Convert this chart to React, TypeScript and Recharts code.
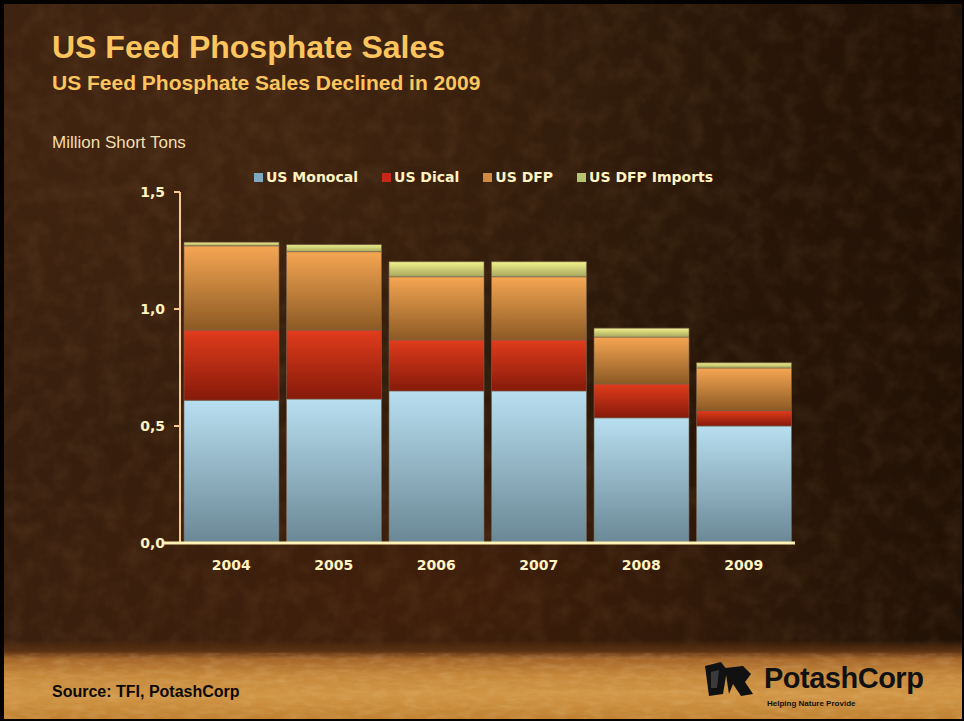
import React from 'react';
import { BarChart, Bar, XAxis, YAxis, Legend } from 'recharts';

const years = ['2004', '2005', '2006', '2007', '2008', '2009'];
const monocal = [0.61, 0.615, 0.65, 0.65, 0.535, 0.5];
const dical = [0.3, 0.295, 0.218, 0.218, 0.145, 0.066];
const dfp = [0.36, 0.335, 0.27, 0.27, 0.2, 0.182];
const dfpImports = [0.015, 0.03, 0.064, 0.064, 0.038, 0.022];

const seriesKeys = ['monocal', 'dical', 'dfp', 'imports'];
const seriesNames = ['US Monocal', 'US Dical', 'US DFP', 'US DFP Imports'];
const legendColors = ['#7fa9c2', '#c8281a', '#d08a42', '#b4c470'];
const gradTop = ['#b8dff0', '#e03c1c', '#f5a652', '#f2f28c'];
const gradBottom = ['#6a8795', '#861a0a', '#8c5a24', '#a6a65e'];

const yTicks = [0, 0.5, 1.0, 1.5];

const data = years.map((y, i) => ({
  year: y,
  monocal: monocal[i],
  dical: dical[i],
  dfp: dfp[i],
  imports: dfpImports[i],
}));

const chartFont = '"DejaVu Sans", Verdana, sans-serif';
const cream = '#fff3c2';

const fmt = (v: number) => v.toFixed(1).replace('.', ',');

const YTick = (props: any) => {
  const { x, y, payload } = props;
  const ax = x + 15;
  return (
    <g>
      {payload.value === 0 && (
        <line x1={ax - 17} x2={ax} y1={y} y2={y} stroke="#fff0b4" strokeWidth={3} />
      )}
      <text
        x={x}
        y={y}
        dy={5}
        textAnchor="end"
        fill={cream}
        fontSize={14}
        fontWeight="bold"
        fontFamily={chartFont}
      >
        {fmt(payload.value)}
      </text>
    </g>
  );
};

const LegendContent = () => (
  <div style={{ display: 'flex', alignItems: 'center', fontFamily: chartFont }}>
    {seriesNames.map((n, i) => (
      <div key={n} style={{ display: 'flex', alignItems: 'center', marginRight: 24 }}>
        <div style={{ width: 9, height: 9, background: legendColors[i], marginRight: 3 }} />
        <span style={{ color: cream, fontSize: 14, fontWeight: 'bold', whiteSpace: 'nowrap' }}>{n}</span>
      </div>
    ))}
  </div>
);

export default function App() {
  return (
    <div
      style={{
        position: 'absolute',
        left: 0,
        top: 0,
        width: 964,
        height: 721,
        background: '#050302',
        overflow: 'hidden',
      }}
    >
      <div
        style={{
          position: 'absolute',
          left: 4,
          top: 4,
          right: 2,
          bottom: 2,
          overflow: 'hidden',
          background:
            'radial-gradient(ellipse 60% 50% at 25% 15%, rgba(80,46,22,0.5) 0%, rgba(80,46,22,0) 100%), radial-gradient(ellipse 50% 30% at 45% 82%, rgba(90,40,14,0.4) 0%, rgba(90,40,14,0) 100%), linear-gradient(90deg, #381f0e 0%, #2d1909 50%, #221206 100%)',
        }}
      >
        <svg width={960} height={717} style={{ position: 'absolute', left: 0, top: 0, opacity: 0.18 }}>
          <filter id="grain">
            <feTurbulence type="fractalNoise" baseFrequency="0.05" numOctaves={3} seed={4} />
            <feColorMatrix
              type="matrix"
              values="0 0 0 0 0.45  0 0 0 0 0.25  0 0 0 0 0.1  0 0 0 1.2 -0.45"
            />
          </filter>
          <rect width={960} height={717} filter="url(#grain)" />
        </svg>
        <div
          style={{
            position: 'absolute',
            left: 0,
            right: 0,
            top: 636,
            bottom: 0,
            background:
              'linear-gradient(180deg, rgba(43,24,9,0) 0%, #5a3212 14%, #a5662a 24%, #c6893c 45%, #d09545 70%, #c08232 100%)',
          }}
        />
        <svg width={960} height={90} style={{ position: 'absolute', left: 0, top: 636, opacity: 0.25 }}>
          <filter id="grain2">
            <feTurbulence type="fractalNoise" baseFrequency="0.06 0.2" numOctaves={3} seed={9} />
            <feColorMatrix
              type="matrix"
              values="0 0 0 0 0.95  0 0 0 0 0.75  0 0 0 0 0.45  0 0 0 1.3 -0.5"
            />
          </filter>
          <rect y={20} width={960} height={70} filter="url(#grain2)" />
        </svg>
      </div>

      <div
        style={{
          position: 'absolute',
          left: 52,
          top: 28,
          fontFamily: 'Arial, "Liberation Sans", sans-serif',
          fontWeight: 'bold',
          fontSize: 32,
          color: '#fcc55e',
          whiteSpace: 'nowrap',
          lineHeight: '38px',
        }}
      >
        US Feed Phosphate Sales
      </div>
      <div
        style={{
          position: 'absolute',
          left: 52,
          top: 70,
          fontFamily: 'Arial, "Liberation Sans", sans-serif',
          fontWeight: 'bold',
          fontSize: 21,
          color: '#fcc55e',
          whiteSpace: 'nowrap',
          lineHeight: '26px',
        }}
      >
        US Feed Phosphate Sales Declined in 2009
      </div>
      <div
        style={{
          position: 'absolute',
          left: 52,
          top: 133,
          fontFamily: 'Arial, "Liberation Sans", sans-serif',
          fontSize: 17,
          color: '#f2dfae',
          whiteSpace: 'nowrap',
          lineHeight: '20px',
        }}
      >
        Million Short Tons
      </div>

      <div style={{ position: 'absolute', left: 0, top: 0 }}>
        <BarChart
          width={964}
          height={721}
          data={data}
          margin={{ top: 192, right: 169, bottom: 148, left: 0 }}
          barCategoryGap={4}
        >
          <defs>
            {seriesKeys.map((k, i) => (
              <linearGradient key={k} id={`g-${k}`} x1="0" y1="0" x2="0" y2="1">
                <stop offset="0%" stopColor={gradTop[i]} />
                <stop offset="100%" stopColor={gradBottom[i]} />
              </linearGradient>
            ))}
          </defs>
          <Legend
            layout="horizontal"
            verticalAlign="middle"
            align="center"
            content={<LegendContent />}
            wrapperStyle={{ position: 'absolute', top: 169, left: 254, width: 600 }}
          />
          <YAxis
            width={180}
            domain={[0, 1.5]}
            ticks={yTicks}
            interval={0}
            axisLine={{ stroke: '#f7c98c', strokeWidth: 2 }}
            tickLine={{ stroke: '#f7c98c', strokeWidth: 2 }}
            tickSize={6}
            tickMargin={9}
            tick={<YTick />}
          />
          <XAxis
            dataKey="year"
            height={30}
            axisLine={{ stroke: '#fff0b4', strokeWidth: 3 }}
            tickLine={false}
            tickSize={6}
            tickMargin={11}
            tick={{ fill: cream, fontSize: 14, fontWeight: 'bold', fontFamily: chartFont }}
          />
          {seriesKeys.map((k, i) => (
            <Bar
              key={k}
              dataKey={k}
              name={seriesNames[i]}
              stackId="s"
              fill={`url(#g-${k})`}
              stroke="rgba(120,100,80,0.6)"
              strokeWidth={1}
              isAnimationActive={false}
            />
          ))}
        </BarChart>
      </div>

      <div
        style={{
          position: 'absolute',
          left: 52,
          top: 683,
          fontFamily: 'Arial, "Liberation Sans", sans-serif',
          fontWeight: 'bold',
          fontSize: 16,
          color: '#0c0804',
          whiteSpace: 'nowrap',
          lineHeight: '18px',
        }}
      >
        Source: TFI, PotashCorp
      </div>

      <svg width={60} height={40} style={{ position: 'absolute', left: 703, top: 660 }}>
        <path d="M2 6 L18 2 L24 10 L20 34 L6 36 Z" fill="#111" />
        <path d="M22 8 L40 6 L48 14 L42 22 L50 34 L38 36 L30 24 L26 34 Z" fill="#111" />
        <path d="M8 12 L16 10 L14 28 L8 28 Z" fill="#3a3a3a" />
      </svg>
      <div
        style={{
          position: 'absolute',
          left: 764,
          top: 662,
          fontFamily: 'Arial, "Liberation Sans", sans-serif',
          fontWeight: 'bold',
          fontSize: 29,
          letterSpacing: -0.5,
          color: '#111',
          whiteSpace: 'nowrap',
          lineHeight: '32px',
        }}
      >
        PotashCorp
      </div>
      <div
        style={{
          position: 'absolute',
          left: 767,
          top: 699,
          fontFamily: 'Arial, "Liberation Sans", sans-serif',
          fontWeight: 'bold',
          fontSize: 8,
          color: '#111',
          whiteSpace: 'nowrap',
          lineHeight: '10px',
        }}
      >
        Helping Nature Provide
      </div>
    </div>
  );
}
